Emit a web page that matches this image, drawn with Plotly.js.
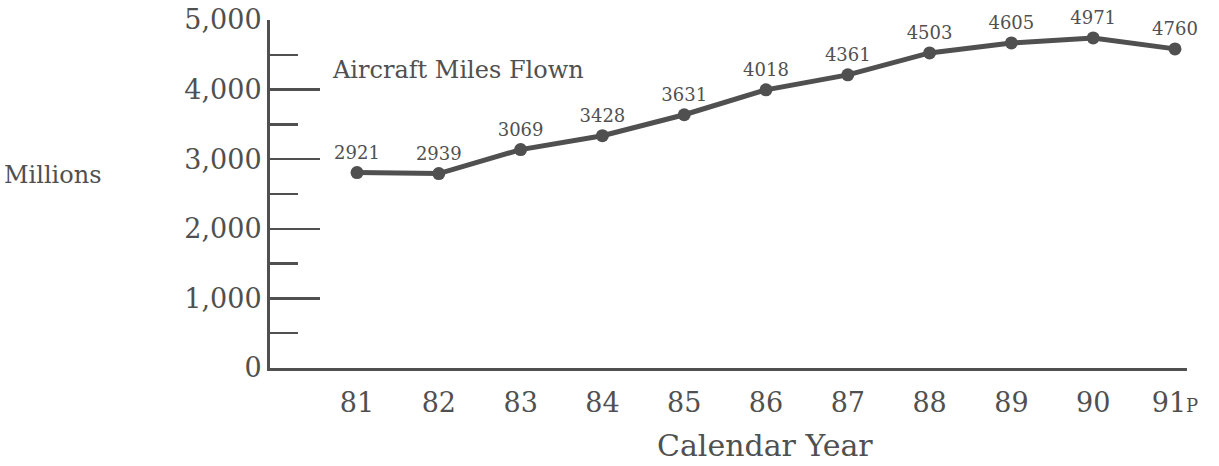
<!DOCTYPE html>
<html>
<head>
<meta charset="utf-8">
<script src="https://cdn.plot.ly/plotly-3.0.1.min.js"></script>
<style>html,body{margin:0;padding:0;background:#fff;}#chart{width:1219px;height:466px;}</style>
</head>
<body>
<div id="chart"></div>
<script>
// Calendar years (x) and tick labels
const years = [81, 82, 83, 84, 85, 86, 87, 88, 89, 90, 91];
const yearLabels = ['81', '82', '83', '84', '85', '86', '87', '88', '89', '90', '91<span style="font-size:18px">P</span>'];
// Aircraft miles flown (millions) as plotted in the picture
const milesPlotted = [2808, 2794, 3138, 3338, 3639, 3997, 4212, 4527, 4670, 4742, 4585];
// Data labels printed above each point
const milesLabels = ['2921', '2939', '3069', '3428', '3631', '4018', '4361', '4503', '4605', '4971', '4760'];
// Y axis ticks
const yTicks = [0, 1000, 2000, 3000, 4000, 5000];
const yTickText = ['0', '1,000', '2,000', '3,000', '4,000', '5,000'];

const ink = '#505050';
const serif = '"DejaVu Serif", "Liberation Serif", serif';

const trace = {
  x: years,
  y: milesPlotted,
  type: 'scatter',
  mode: 'lines+markers+text',
  text: milesLabels,
  textposition: 'top center',
  textfont: {family: serif, size: 18, color: ink},
  line: {color: ink, width: 5},
  marker: {color: ink, size: 13},
  cliponaxis: false,
  hoverinfo: 'skip'
};

const layout = {
  width: 1219,
  height: 466,
  margin: {l: 270, r: 32, t: 20, b: 98},
  paper_bgcolor: '#ffffff',
  plot_bgcolor: '#ffffff',
  showlegend: false,
  font: {family: serif, color: ink},
  xaxis: {
    range: [79.936, 91.147],
    tickmode: 'array',
    tickvals: years,
    ticktext: yearLabels,
    showgrid: false,
    zeroline: false,
    showline: true,
    linecolor: ink,
    linewidth: 3,
    ticks: '',
    tickfont: {family: serif, size: 27, color: ink},
    ticklabelstandoff: 9
  },
  yaxis: {
    range: [0, 5000],
    tickmode: 'array',
    tickvals: yTicks,
    ticktext: yTickText,
    showgrid: false,
    zeroline: false,
    showline: true,
    linecolor: ink,
    linewidth: 3,
    ticks: 'inside',
    ticklen: 50,
    tickwidth: 2.5,
    tickcolor: ink,
    tickfont: {family: serif, size: 27, color: ink},
    minor: {dtick: 500, tick0: 0, ticks: 'inside', ticklen: 28, tickwidth: 2.5, tickcolor: ink, showgrid: false}
  },
  annotations: [
    {text: 'Aircraft Miles Flown', xref: 'paper', yref: 'paper', x: (330 - 270) / 917, y: (368 - 70) / 348,
     xanchor: 'left', yanchor: 'middle', showarrow: false, font: {family: serif, size: 24, color: ink}},
    {text: 'Millions', xref: 'paper', yref: 'paper', x: (2 - 270) / 917, y: (368 - 175) / 348,
     xanchor: 'left', yanchor: 'middle', showarrow: false, font: {family: serif, size: 24, color: ink}},
    {text: 'Calendar Year', xref: 'paper', yref: 'paper', x: (765 - 270) / 917, y: (368 - 445) / 348,
     xanchor: 'center', yanchor: 'middle', showarrow: false, font: {family: serif, size: 30, color: ink}}
  ]
};

Plotly.newPlot('chart', [trace], layout, {staticPlot: true, displayModeBar: false});
</script>
</body>
</html>
